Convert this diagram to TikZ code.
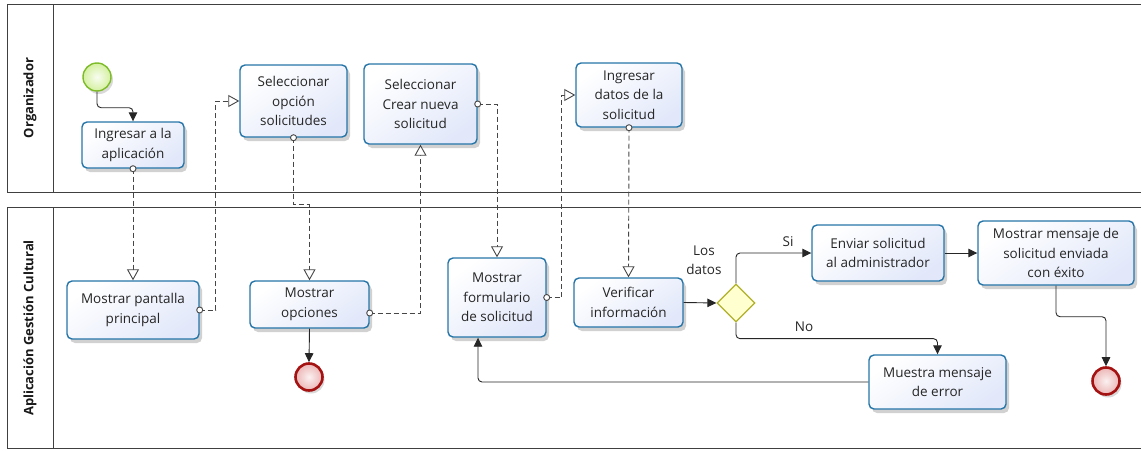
\documentclass[tikz,border=0pt]{standalone}
\usepackage{fontspec}
\setmainfont{Open Sans}
\usetikzlibrary{arrows.meta,shapes.geometric,shadows}

\definecolor{taskline}{RGB}{38,117,168}
\definecolor{taskfill}{RGB}{226,232,250}
\definecolor{startline}{RGB}{125,188,40}
\definecolor{startfill}{RGB}{212,240,160}
\definecolor{endline}{RGB}{165,18,18}
\definecolor{endfill}{RGB}{236,182,182}
\definecolor{gateline}{RGB}{176,176,40}
\definecolor{gatefill}{RGB}{255,255,208}
\definecolor{msgline}{RGB}{70,70,70}

\begin{document}
\begin{tikzpicture}[x=1pt,y=-1pt,
  txt/.style={font=\fontsize{13.5}{19.5}\selectfont, text=black!85},
  task/.style={txt, draw=taskline, line width=1.4pt, rounded corners=5pt,
    align=center, inner sep=0pt,
    top color=white, bottom color=taskfill, shading angle=35,
    drop shadow={shadow xshift=3pt, shadow yshift=-4pt, opacity=0.18, fill=black}},
  startev/.style={circle, draw=startline, line width=1.4pt, minimum size=28pt,
    inner sep=0pt, inner color=white!85!startfill, outer color=startfill,
    drop shadow={shadow xshift=2pt, shadow yshift=-3pt, opacity=0.15, fill=black}},
  endev/.style={circle, draw=endline, line width=2.6pt, minimum size=27pt,
    inner sep=0pt, inner color=white!80!endfill, outer color=endfill,
    drop shadow={shadow xshift=2pt, shadow yshift=-3pt, opacity=0.15, fill=black}},
  gateway/.style={diamond, draw=gateline, line width=1.3pt, fill=gatefill,
    minimum width=38pt, minimum height=38pt, inner sep=0pt},
  lanelabel/.style={rotate=90, font=\fontsize{13}{15}\selectfont\bfseries, text=black!90},
  pool/.style={draw=black!75, line width=1pt},
  seq/.style={draw=black!85, line width=0.9pt, rounded corners=4pt,
    -{Triangle[length=9pt,width=8.5pt]}},
  msg/.style={draw=msgline, line width=0.9pt, dash pattern=on 5pt off 3pt,
    -{Triangle[open,length=11pt,width=12pt,fill=white]}},
  msgdot/.style={draw=msgline, line width=0.9pt, fill=white},
]
\useasboundingbox (0,0) rectangle (1141,450);

% pools and lanes
\draw[pool] (7,4) rectangle (1160,192);
\draw[pool] (53,4) -- (53,192);
\draw[pool] (7,207) rectangle (1160,448);
\draw[pool] (53,207) -- (53,448);
\node[lanelabel] (laneA) at (30,98) {Organizador};
\node[lanelabel] (laneB) at (30,328) {Aplicación Gestión Cultural};

% events and gateway
\node[startev] (start) at (97,77) {};
\node[endev] (endA) at (309,377) {};
\node[endev] (endB) at (1106,381) {};
\node[gateway] (gw) at (736,303) {};

% tasks of the organizer
\node[task, minimum width=102pt, minimum height=46pt] (t1) at (133,145) {Ingresar a la\\aplicación};
\node[task, minimum width=107pt, minimum height=72pt] (t2) at (293.5,101) {Seleccionar\\opción\\solicitudes};
\node[task, minimum width=113pt, minimum height=80pt] (t3) at (420.5,104) {Seleccionar\\Crear nueva\\solicitud};
\node[task, minimum width=106pt, minimum height=64pt] (t4) at (629,95) {Ingresar\\datos de la\\solicitud};

% tasks of the application
\node[task, minimum width=132pt, minimum height=58pt] (b1) at (133,310) {Mostrar pantalla\\principal};
\node[task, minimum width=119pt, minimum height=47pt] (b2) at (309.5,304.5) {Mostrar\\opciones};
\node[task, minimum width=98pt, minimum height=79pt] (b3) at (497,297.5) {Mostrar\\formulario\\de solicitud};
\node[task, minimum width=109pt, minimum height=49pt] (b4) at (628.5,302.5) {Verificar\\información};
\node[task, minimum width=132pt, minimum height=56pt] (b5) at (878,253) {Enviar solicitud\\al administrador};
\node[task, minimum width=156pt, minimum height=64pt] (b6) at (1056,253) {Mostrar mensaje de\\solicitud enviada\\con éxito};
\node[task, minimum width=137pt, minimum height=54pt] (b7) at (937.5,382) {Muestra mensaje\\de error};

% gateway labels
\node[txt, align=center, inner sep=0pt] (lq) at (704,260) {Los\\datos};
\node[txt, inner sep=0pt] (lsi) at (788,242) {Si};
\node[txt, inner sep=0pt] (lno) at (804,327) {No};

% sequence flows
\draw[seq] (start.south) -- ++(0,16) -| (t1.north);
\draw[seq] (b2.south) -- (endA.north);
\draw[seq] (b4.east) -- (gw.west);
\draw[seq] (gw.north) |- (b5.west);
\draw[seq] (gw.south) -- ++(0,16) -| (b7.north);
\draw[seq] (b7.west) -| ([xshift=-19pt]b3.south);
\draw[seq] (b5.east) -- (b6.west);
\draw[seq] (b6.south) -- ++(0,31) -| (endB.north);

% message flows
\draw[msg] (t1.south) -- (b1.north);
\draw[msg] (b1.east) -- ++(16,0) |- (t2.west);
\draw[msg] (t2.south) -- ++(0,67) -| (b2.north);
\draw[msg] ([yshift=-8.5pt]b2.east) -| (t3.south);
\draw[msg] (t3.east) -| (b3.north);
\draw[msg] (b3.east) -- ++(15,0) |- (t4.west);
\draw[msg] (t4.south) -- (b4.north);

% message flow sources
\draw[msgdot] (t1.south) circle[radius=3pt];
\draw[msgdot] (b1.east) circle[radius=3pt];
\draw[msgdot] (t2.south) circle[radius=3pt];
\draw[msgdot] ([yshift=-8.5pt]b2.east) circle[radius=3pt];
\draw[msgdot] (t3.east) circle[radius=3pt];
\draw[msgdot] (b3.east) circle[radius=3pt];
\draw[msgdot] (t4.south) circle[radius=3pt];
\end{tikzpicture}
\end{document}
